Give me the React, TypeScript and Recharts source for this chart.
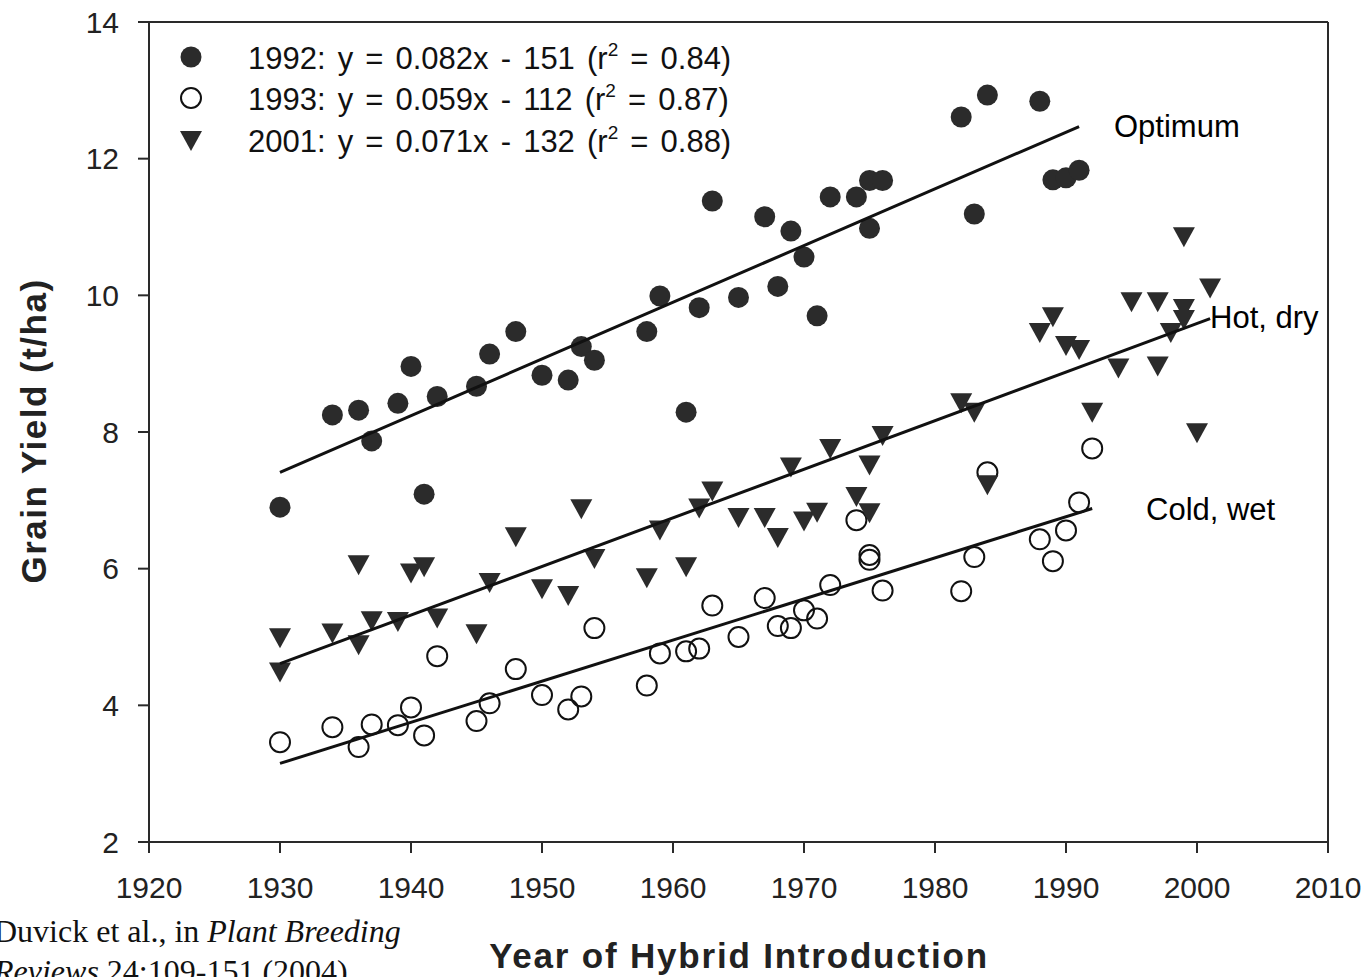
import React from 'react';
import { ScatterChart, Scatter, XAxis, YAxis, ReferenceLine } from 'recharts';

// ---- Data ----
const optimumYears = [1930, 1934, 1936, 1937, 1939, 1940, 1941, 1942, 1945, 1946, 1948, 1950, 1952, 1953, 1954, 1958, 1959, 1961, 1962, 1963, 1965, 1967, 1968, 1969, 1970, 1971, 1972, 1974, 1975, 1975, 1976, 1982, 1983, 1984, 1988, 1989, 1990, 1991];
const optimumYield = [6.90, 8.25, 8.32, 7.87, 8.42, 8.96, 7.09, 8.52, 8.67, 9.14, 9.47, 8.83, 8.76, 9.25, 9.05, 9.47, 9.99, 8.29, 9.82, 11.38, 9.97, 11.15, 10.13, 10.94, 10.56, 9.70, 11.44, 11.44, 10.98, 11.68, 11.68, 12.61, 11.19, 12.93, 12.84, 11.69, 11.72, 11.83];

const coldYears = [1930, 1934, 1936, 1937, 1939, 1940, 1941, 1942, 1945, 1946, 1948, 1950, 1952, 1953, 1954, 1958, 1959, 1961, 1962, 1963, 1965, 1967, 1968, 1969, 1970, 1971, 1972, 1974, 1975, 1975, 1976, 1982, 1983, 1984, 1988, 1989, 1990, 1991, 1992];
const coldYield = [3.46, 3.68, 3.39, 3.72, 3.71, 3.97, 3.56, 4.72, 3.77, 4.03, 4.53, 4.15, 3.94, 4.13, 5.13, 4.29, 4.76, 4.79, 4.83, 5.46, 5.00, 5.57, 5.16, 5.13, 5.39, 5.27, 5.76, 6.71, 6.20, 6.13, 5.68, 5.67, 6.17, 7.41, 6.43, 6.11, 6.56, 6.97, 7.76];

const hotYears = [1930, 1930, 1934, 1936, 1936, 1937, 1939, 1940, 1941, 1942, 1945, 1946, 1948, 1950, 1952, 1953, 1954, 1958, 1959, 1961, 1962, 1963, 1965, 1967, 1968, 1969, 1970, 1971, 1972, 1974, 1975, 1975, 1976, 1982, 1983, 1984, 1988, 1989, 1990, 1991, 1992, 1994, 1995, 1997, 1997, 1998, 1999, 1999, 1999, 2000, 2001];
const hotYield = [4.98, 4.48, 5.05, 6.05, 4.88, 5.23, 5.22, 5.93, 6.02, 5.27, 5.04, 5.79, 6.46, 5.70, 5.60, 6.87, 6.14, 5.86, 6.56, 6.02, 6.88, 7.13, 6.74, 6.74, 6.45, 7.48, 6.69, 6.82, 7.75, 7.05, 7.51, 6.81, 7.94, 8.42, 8.28, 7.22, 9.45, 9.68, 9.26, 9.20, 8.28, 8.93, 9.90, 9.90, 8.96, 9.45, 10.85, 9.80, 9.64, 7.98, 10.10];

// regression line end points
const optimumTrendYears = [1930, 1991];
const optimumTrendYield = [7.41, 12.47];
const hotTrendYears = [1930, 2001];
const hotTrendYield = [4.61, 9.66];
const coldTrendYears = [1930, 1992];
const coldTrendYield = [3.15, 6.88];

const xTicks = [1920, 1930, 1940, 1950, 1960, 1970, 1980, 1990, 2000, 2010];
const yTicks = [2, 4, 6, 8, 10, 12, 14];

const legendLabels = [
  { year: '1992', eq: 'y = 0.082x - 151', r2: '0.84' },
  { year: '1993', eq: 'y = 0.059x - 112', r2: '0.87' },
  { year: '2001', eq: 'y = 0.071x - 132', r2: '0.88' },
];

const zip = (xs: number[], ys: number[]) => xs.map((x, i) => ({ x, y: ys[i] }));

const optimumData = zip(optimumYears, optimumYield);
const coldData = zip(coldYears, coldYield);
const hotData = zip(hotYears, hotYield);
const optimumTrend = zip(optimumTrendYears, optimumTrendYield);
const hotTrend = zip(hotTrendYears, hotTrendYield);
const coldTrend = zip(coldTrendYears, coldTrendYield);

const SANS = '"Liberation Sans", Arial, Helvetica, sans-serif';
const SERIF = '"Liberation Serif", "Times New Roman", Times, serif';
const MARK = '#2b2b2b';
const AXIS = '#2a2a2a';

const FilledCircle = (p: any) => <circle cx={p.cx} cy={p.cy} r={10.5} fill={MARK} />;
const OpenCircle = (p: any) => (
  <circle cx={p.cx} cy={p.cy} r={10} fill="none" stroke="#111" strokeWidth={2} />
);
const Triangle = (p: any) => (
  <path d={`M${p.cx - 11},${p.cy - 10} L${p.cx + 11},${p.cy - 10} L${p.cx},${p.cy + 10} Z`} fill={MARK} />
);
const NoShape = () => <g />;

const tickStyle = { fontSize: 30, fontFamily: SANS, fill: '#222' };

export default function App() {
  const legendMarkers = [
    <circle key="a" cx={191} cy={57} r={10.5} fill={MARK} />,
    <circle key="b" cx={191} cy={98} r={10} fill="none" stroke="#111" strokeWidth={2} />,
    <path key="c" d={`M180,131 L202,131 L191,151 Z`} fill={MARK} />,
  ];
  const baselines = [69, 110, 152];
  return (
    <div style={{ position: 'absolute', left: 0, top: 0, width: 1368, height: 977, background: '#fff', overflow: 'hidden' }}>
      <ScatterChart width={1368} height={977} margin={{ top: 22, right: 40, bottom: 125, left: 139 }}>
        <XAxis
          type="number"
          dataKey="x"
          domain={[1920, 2010]}
          ticks={xTicks}
          height={10}
          tickSize={11}
          tickMargin={24}
          tick={tickStyle}
          axisLine={{ stroke: AXIS, strokeWidth: 2 }}
          tickLine={{ stroke: AXIS, strokeWidth: 2 }}
          allowDataOverflow
        />
        <YAxis
          type="number"
          dataKey="y"
          domain={[2, 14]}
          ticks={yTicks}
          width={10}
          tickSize={11}
          tickMargin={19}
          tick={tickStyle}
          axisLine={{ stroke: AXIS, strokeWidth: 2 }}
          tickLine={{ stroke: AXIS, strokeWidth: 2 }}
          allowDataOverflow
        />
        <ReferenceLine y={14} stroke={AXIS} strokeWidth={2} />
        <ReferenceLine x={2010} stroke={AXIS} strokeWidth={2} />
        <Scatter data={coldData} shape={OpenCircle} isAnimationActive={false} />
        <Scatter data={optimumData} shape={FilledCircle} isAnimationActive={false} />
        <Scatter data={hotData} shape={Triangle} isAnimationActive={false} />
        <Scatter data={optimumTrend} shape={NoShape} line={{ stroke: '#111', strokeWidth: 3 }} lineType="joint" isAnimationActive={false} />
        <Scatter data={hotTrend} shape={NoShape} line={{ stroke: '#111', strokeWidth: 3 }} lineType="joint" isAnimationActive={false} />
        <Scatter data={coldTrend} shape={NoShape} line={{ stroke: '#111', strokeWidth: 3 }} lineType="joint" isAnimationActive={false} />
      </ScatterChart>
      <svg width={1368} height={977} style={{ position: 'absolute', left: 0, top: 0, pointerEvents: 'none' }}>
        {legendMarkers}
        {legendLabels.map((l, i) => (
          <text key={l.year} x={248} y={baselines[i]} fontFamily={SANS} fontSize={31} fill="#111" wordSpacing={3.5}>
            {`${l.year}: ${l.eq} (r`}
            <tspan fontSize={19} dy={-13}>2</tspan>
            <tspan dy={13}>{` = ${l.r2})`}</tspan>
          </text>
        ))}
        <text x={1114} y={137} fontFamily={SANS} fontSize={31} fill="#000">Optimum</text>
        <text x={1210} y={328} fontFamily={SANS} fontSize={31} fill="#000">Hot, dry</text>
        <text x={1146} y={520} fontFamily={SANS} fontSize={31} fill="#000">Cold, wet</text>
        <text
          x={0}
          y={0}
          transform="translate(46,431) rotate(-90)"
          textAnchor="middle"
          fontFamily={SANS}
          fontWeight="bold"
          fontSize={35}
          letterSpacing={1.5}
          fill="#222"
        >
          Grain Yield (t/ha)
        </text>
        <text x={739} y={968} textAnchor="middle" fontFamily={SANS} fontWeight="bold" fontSize={35} letterSpacing={1.8} fill="#222">
          Year of Hybrid Introduction
        </text>
        <text x={-6} y={942} fontFamily={SERIF} fontSize={32} fill="#111">
          Duvick et al., in <tspan fontStyle="italic">Plant Breeding</tspan>
        </text>
        <text x={-6} y={982} fontFamily={SERIF} fontSize={32} fill="#111">
          <tspan fontStyle="italic">Reviews</tspan> 24:109-151 (2004)
        </text>
      </svg>
    </div>
  );
}
